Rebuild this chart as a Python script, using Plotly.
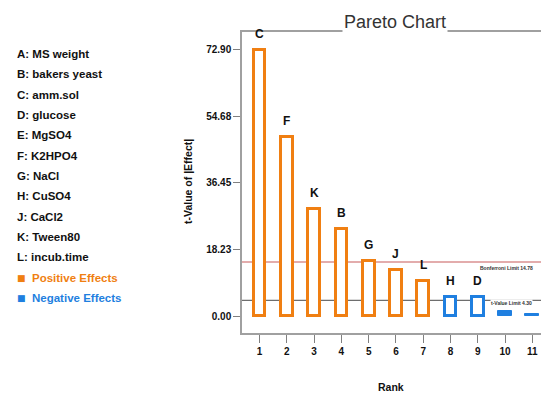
import plotly.graph_objects as go

# ---- data ----
ranks = [1, 2, 3, 4, 5, 6, 7, 8, 9, 10, 11]
effect_letters = ["C", "F", "K", "B", "G", "J", "L", "H", "D", "", ""]
t_values = [72.90, 49.1, 29.3, 23.9, 15.1, 12.5, 9.7, 5.2, 5.2, 1.3, 0.6]
signs = ["+", "+", "+", "+", "+", "+", "+", "-", "-", "-", "-"]
y_tick_vals = [0.0, 18.225, 36.45, 54.675, 72.90]
y_tick_text = ["0.00", "18.23", "36.45", "54.68", "72.90"]
bonferroni_limit = 14.78
t_value_limit = 4.30
factor_names = ["A: MS weight", "B: bakers yeast", "C: amm.sol", "D: glucose",
                "E: MgSO4", "F: K2HPO4", "G: NaCl", "H: CuSO4", "J: CaCl2",
                "K: Tween80", "L: incub.time"]

ORANGE = "#F07F12"
BLUE = "#1F7FE0"
FONT = "Liberation Sans"

fig = go.Figure()

fill_cols, line_cols, line_w, widths = [], [], [], []
for v, s in zip(t_values, signs):
    c = ORANGE if s == "+" else BLUE
    line_cols.append(c)
    if v > 3:
        fill_cols.append("white")
        line_w.append(3)
        widths.append(0.43)
    else:
        fill_cols.append(c)
        line_w.append(1)
        widths.append(0.5)

fig.add_trace(go.Bar(
    x=ranks, y=t_values, width=widths,
    marker=dict(color=fill_cols, line=dict(color=line_cols, width=line_w)),
    showlegend=False, hoverinfo="skip",
))

fig.add_shape(type="line", xref="paper", x0=0, x1=1, yref="y",
              y0=bonferroni_limit, y1=bonferroni_limit,
              line=dict(color="#C85A5A", width=1.2), layer="below")
fig.add_shape(type="line", xref="paper", x0=0, x1=1, yref="y",
              y0=t_value_limit, y1=t_value_limit,
              line=dict(color="#6E6E6E", width=1.2), layer="below")

fig.add_annotation(x=9.0, y=bonferroni_limit, xref="x", yref="y",
                   text=f"<b>Bonferroni Limit {bonferroni_limit:.2f}</b>",
                   showarrow=False, xanchor="left", yanchor="top", yshift=-1,
                   font=dict(family=FONT, size=5, color="#333333"))
fig.add_annotation(x=9.45, y=t_value_limit, xref="x", yref="y",
                   text=f"<b>t-Value Limit {t_value_limit:.2f}</b>",
                   showarrow=False, xanchor="left", yanchor="middle", yshift=-3,
                   bgcolor="white", borderpad=0,
                   font=dict(family=FONT, size=5, color="#333333"))

for r, v, lab in zip(ranks, t_values, effect_letters):
    if lab:
        fig.add_annotation(x=r, y=v, xref="x", yref="y", text=f"<b>{lab}</b>",
                           showarrow=False, yanchor="bottom", yshift=7,
                           font=dict(family=FONT, size=12, color="#111111"))

y0 = 54
step = 20.33
for i, name in enumerate(factor_names):
    fig.add_annotation(x=15, y=394 - (y0 + i * step), xref="paper", yref="paper",
                       text=f"<b>{name}</b>", showarrow=False,
                       xanchor="left", yanchor="middle",
                       font=dict(family=FONT, size=11.5, color="#111111"))
for j, (lab, col) in enumerate([("Positive Effects", ORANGE), ("Negative Effects", BLUE)]):
    ypix = y0 + (len(factor_names) + j) * step
    fig.add_annotation(x=15, y=394 - ypix, xref="paper", yref="paper",
                       text="\u25A0", showarrow=False,
                       xanchor="left", yanchor="middle",
                       font=dict(family="DejaVu Sans", size=9, color=col))
    fig.add_annotation(x=30, y=394 - ypix, xref="paper", yref="paper",
                       text=f"<b>{lab}</b>", showarrow=False,
                       xanchor="left", yanchor="middle",
                       font=dict(family=FONT, size=11.5, color=col))

fig.add_annotation(x=395, y=394 - 22, xref="paper", yref="paper", text="Pareto Chart",
                   showarrow=False, xanchor="center", yanchor="middle", bgcolor="white",
                   font=dict(family=FONT, size=18, color="#333333", weight="normal"))
fig.add_annotation(x=188, y=394 - 182, xref="paper", yref="paper",
                   text="<b>t-Value of |Effect|</b>", textangle=-90,
                   showarrow=False, xanchor="center", yanchor="middle",
                   font=dict(family=FONT, size=10.5, color="#111111"))
fig.add_annotation(x=391, y=394 - 387, xref="paper", yref="paper",
                   text="<b>Rank</b>", showarrow=False,
                   xanchor="center", yanchor="middle",
                   font=dict(family=FONT, size=10.5, color="#111111"))

W, H = 541, 394
L, R, T, B = 242, 0, 32, 61
pw, ph = W - L - R, H - T - B
for a in fig.layout.annotations:
    if a.xref == "paper":
        a.x = (a.x - L) / pw
        a.y = (a.y - B) / ph

fig.update_layout(
    width=W, height=H,
    margin=dict(l=L, r=R, t=T, b=B, pad=0, autoexpand=False),
    plot_bgcolor="white", paper_bgcolor="white",
    bargap=0,
    xaxis=dict(range=[0.355, 11.32], tickvals=ranks, ticktext=[f"<b>{r}</b>" for r in ranks],
               automargin=False,
               showgrid=False, zeroline=False, showline=True, linecolor="#A0A0A0",
               linewidth=1.5, mirror=True, ticks="outside", ticklen=8, tickcolor="#808080",
               tickfont=dict(family=FONT, size=10, color="#111111")),
    yaxis=dict(range=[-4.65, 77.7], tickvals=y_tick_vals, ticktext=[f"<b>{t}</b>" for t in y_tick_text],
               automargin=False,
               showgrid=False, zeroline=False, showline=True, linecolor="#A0A0A0",
               linewidth=1.5, ticks="outside", ticklen=7, tickcolor="#808080",
               tickfont=dict(family=FONT, size=10, color="#111111")),
)

fig.write_html("out.html", config={"displayModeBar": False},
               post_script="document.body.style.margin='0';document.body.style.padding='0';")
